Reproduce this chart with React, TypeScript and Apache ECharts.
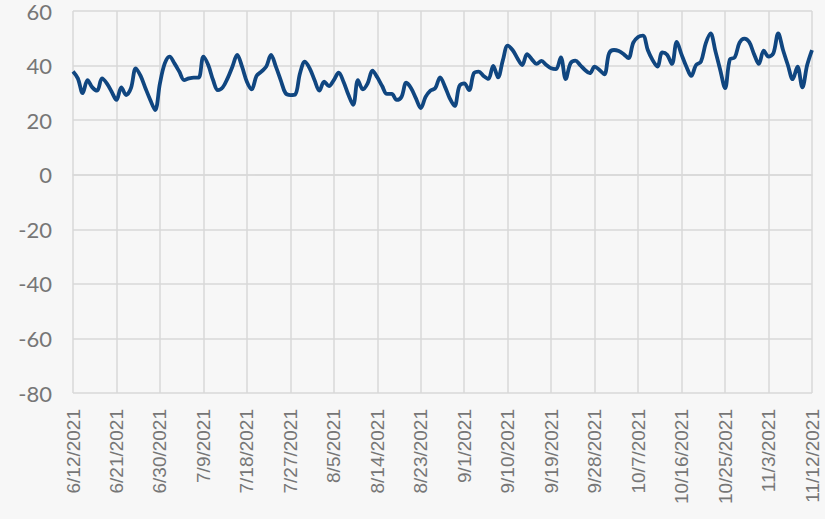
import React, { useEffect, useRef } from "react";
import * as echarts from "echarts";

const startDate = { year: 2021, month: 6, day: 12 };
const dayCount = 154;

const values: number[] = [
  37.8, 35.3, 29.9, 34.7, 32, 30.8, 35.3, 33.5, 30.4, 27.4,
  32, 29.2, 31.7, 39, 36.2, 31.7, 27.4, 23.7, 33.5, 40.8,
  43.3, 40.8, 37.8, 34.7, 35.3, 35.6, 35.6, 43.3, 40.2, 34.7,
  31, 32, 35.3, 39.6, 43.9, 39.6, 34.1, 31.3, 36.2, 37.8,
  39.6, 43.9, 39.6, 34.7, 29.9, 29.2, 29.4, 37.2, 41.4, 39,
  34.7, 30.8, 34.1, 32.5, 34.7, 37.4, 34.1, 29.4, 25.6, 34.7,
  31.3, 33.5, 38.1, 35.7, 32.5, 29.6, 29.6, 27.4, 28.5, 33.7,
  31.7, 28, 24.4, 28.5, 30.8, 31.7, 35.7, 32.3, 28, 25.2,
  32.5, 33.5, 31, 37.2, 37.8, 36.2, 35.1, 39.9, 35.7, 42,
  47.3, 45.7, 42.7, 40.2, 44.2, 42.3, 40.6, 41.7, 40.2, 39,
  38.7, 43, 35, 40.8, 41.8, 40.2, 38.4, 37.2, 39.6, 38.4,
  36.8, 44.5, 45.7, 45.3, 44.2, 42.7, 48.4, 50.5, 51, 45.7,
  42, 39.6, 44.8, 44, 40.6, 48.7, 44, 39.6, 36.2, 40.2,
  41.4, 48.1, 51.8, 45.3, 38.4, 31.7, 42.3, 43, 48.4, 49.9,
  48.6, 44.2, 40.6, 45.5, 43.3, 44.5, 51.8, 45.7, 40.2, 35,
  39.6, 32, 40.2, 45.7,
];

const yMin = -80;
const yMax = 60;
const yStep = 20;
const labelEvery = 9;

function buildCategories(): string[] {
  const out: string[] = [];
  const d = new Date(Date.UTC(startDate.year, startDate.month - 1, startDate.day));
  for (let i = 0; i < dayCount; i++) {
    out.push(`${d.getUTCMonth() + 1}/${d.getUTCDate()}/${d.getUTCFullYear()}`);
    d.setUTCDate(d.getUTCDate() + 1);
  }
  return out;
}

const categories = buildCategories();

export default function App() {
  const ref = useRef<HTMLDivElement>(null);
  useEffect(() => {
    if (!ref.current) return;
    const chart = echarts.init(ref.current, null, { renderer: "svg" });
    const showIdx = (i: number) => i % labelEvery === 0;
    chart.setOption({
      animation: false,
      backgroundColor: "#f7f7f7",
      grid: {
        left: 73,
        right: 13,
        top: 11,
        bottom: 126,
        containLabel: false,
        outerBoundsMode: "none",
      },
      xAxis: {
        type: "category",
        data: categories,
        boundaryGap: false,
        axisLine: { show: true, lineStyle: { color: "#d9d9d9", width: 1.5 } },
        axisTick: { show: false },
        splitLine: {
          show: true,
          interval: (i: number) => showIdx(i),
          lineStyle: { color: "#d9d9d9", width: 1.5 },
        },
        axisLabel: {
          interval: (i: number) => showIdx(i),
          rotate: 90,
          margin: 16,
          color: "#767676",
          fontSize: 19,
          fontFamily: "'Liberation Sans', Arial, sans-serif",
        },
      },
      yAxis: {
        type: "value",
        min: yMin,
        max: yMax,
        interval: yStep,
        axisLine: { show: false },
        axisTick: { show: false },
        splitLine: { show: true, lineStyle: { color: "#d9d9d9", width: 1.5 } },
        axisLabel: {
          margin: 21,
          color: "#767676",
          fontSize: 22,
          fontFamily: "Lato, 'Liberation Sans', sans-serif",
        },
      },
      series: [
        {
          type: "line",
          data: values,
          smooth: 0.35,
          showSymbol: false,
          symbol: "none",
          lineStyle: { color: "#104680", width: 3.8 },
        },
      ],
    });
    return () => chart.dispose();
  }, []);
  return (
    <div
      ref={ref}
      style={{ position: "absolute", left: 0, top: 0, width: 825, height: 519 }}
    />
  );
}
